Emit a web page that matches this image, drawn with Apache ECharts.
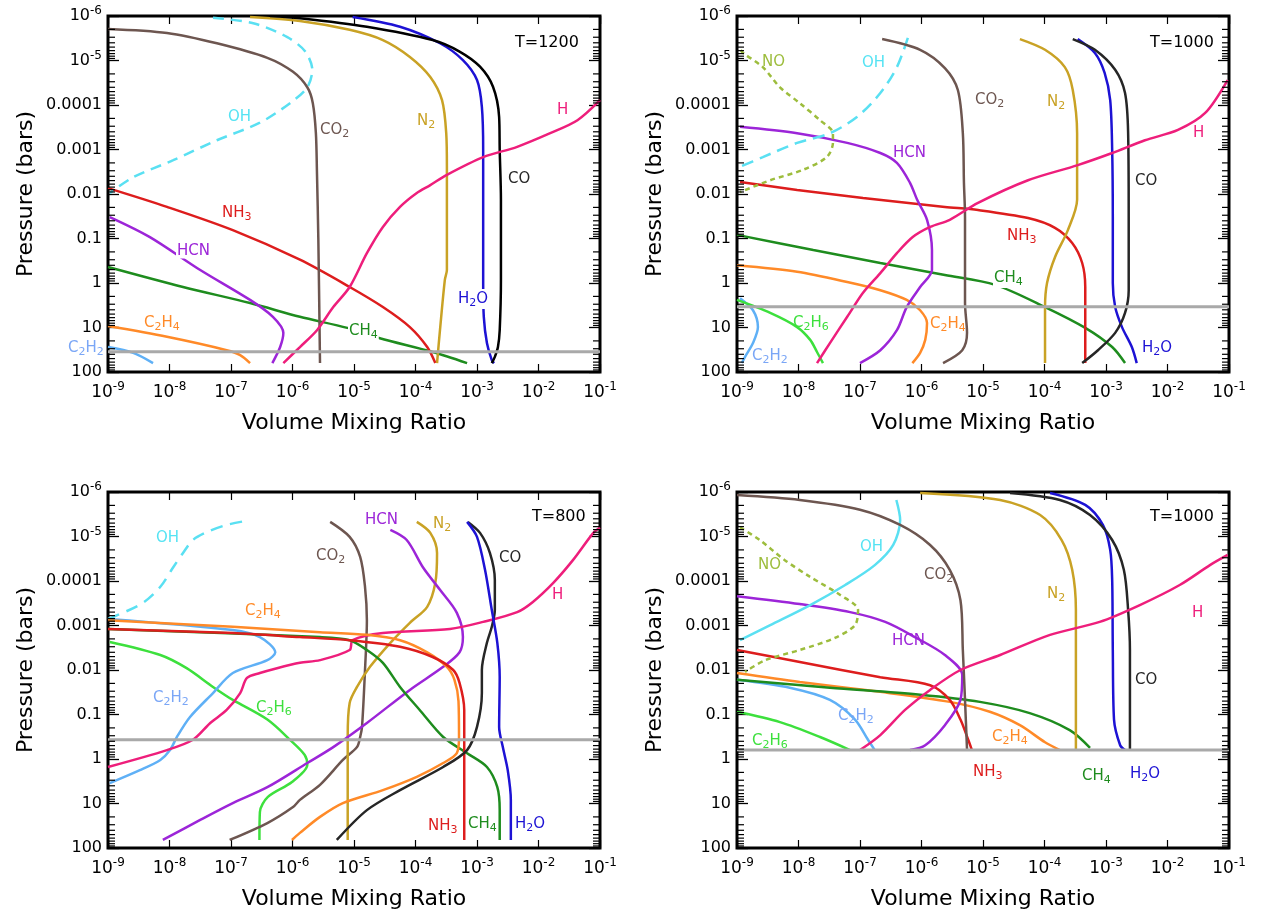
<!DOCTYPE html>
<html><head><meta charset="utf-8">
<script src="https://cdn.jsdelivr.net/npm/echarts@6/dist/echarts.min.js"></script>
<style>html,body{margin:0;padding:0;background:#fff}#c{width:1265px;height:918px}</style>
</head><body><div id="c"></div>
<script>
// ---------- tick labels ----------
const xTickExps = [-9,-8,-7,-6,-5,-4,-3,-2,-1];
const yTickLabels = {'-6':'10^-6','-5':'10^-5','-4':'0.0001','-3':'0.001','-2':'0.01','-1':'0.1','0':'1','1':'10','2':'100'};
const yMinorDecades = [1e-6,1e-5,1e-4,1e-3,1e-2,1e-1,1,10];
const minorMultipliers = [2,3,4,5,6,7,8,9];
const panelTitles = ['T=1200','T=1000','T=800','T=1000'];
const grayP = [35, 3.4, 0.37, 0.63];

// ---------- T=1200 (top left) ----------
const tl_CO2 = [[1e-9,1.95e-6],[9.1e-9,2.4e-6],[5.9e-8,4.1e-6],[3.9e-7,8.7e-6],[1.02e-6,1.8e-5],[1.74e-6,4.0e-5],[2.14e-6,9.1e-5],[2.4e-6,4.3e-4],[2.5e-6,3.4e-3],[2.63e-6,0.1],[2.8e-6,63]];
const tl_OH = [[5.1e-8,1.1e-6],[2.3e-7,1.45e-6],[8.1e-7,2.95e-6],[1.6e-6,6.2e-6],[2.1e-6,1.62e-5],[1.74e-6,4.0e-5],[9.1e-7,9.1e-5],[2.95e-7,2.5e-4],[5.9e-8,6.2e-4],[1.15e-8,1.74e-3],[2.57e-9,4.2e-3],[1.07e-9,9.5e-3]];
const tl_N2 = [[2.04e-7,1.05e-6],[1.32e-6,1.29e-6],[8.5e-6,2.04e-6],[2.95e-5,3.47e-6],[8.1e-5,8.3e-6],[1.74e-4,2.34e-5],[2.7e-4,7.8e-5],[3.16e-4,4.3e-4],[3.24e-4,2.45e-3],[3.24e-4,9.5e-3],[3.24e-4,0.51],[3.0e-4,0.85],[2.5e-4,11.5],[2.24e-4,63]];
const tl_H2O = [[9.5e-6,1.05e-6],[5.6e-5,1.74e-6],[2.5e-4,4.1e-6],[5.9e-4,9.8e-6],[1e-3,2.75e-5],[1.2e-3,1.1e-4],[1.26e-3,1.02e-3],[1.26e-3,1.35e-2],[1.26e-3,1],[1.29e-3,5.75],[1.45e-3,22.4],[1.74e-3,54],[1.9e-3,63]];
const tl_CO = [[4.3e-7,1e-6],[1.32e-6,1.12e-6],[1.62e-5,1.74e-6],[1.9e-4,3.47e-6],[5.2e-4,6.3e-6],[1.12e-3,1.38e-5],[1.82e-3,3.9e-5],[2.29e-3,1.86e-4],[2.34e-3,1.02e-3],[2.45e-3,1.35e-2],[2.45e-3,0.85],[2.34e-3,11.5],[2.19e-3,27.5],[1.95e-3,45.7],[1.74e-3,63]];
const tl_H = [[7.1e-7,63],[1.32e-6,27.5],[2.5e-6,11.5],[4.6e-6,3.47],[8.5e-6,1.23],[1.62e-5,0.214],[2.95e-5,0.055],[5.6e-5,0.0195],[1.05e-4,9.5e-3],[1.74e-4,6.3e-3],[3.24e-4,3.7e-3],[1.26e-3,1.48e-3],[4.5e-3,8.7e-4],[1.55e-2,4.3e-4],[4.3e-2,2.2e-4],[0.1,7.8e-5]];
const tl_NH3 = [[1e-9,7.4e-3],[9.1e-9,0.0195],[1.07e-7,0.065],[1.32e-6,0.30],[8.5e-6,1.23],[2.95e-5,3.47],[8.1e-5,9.8],[1.55e-4,27.5],[2.1e-4,63]];
const tl_HCN = [[1.07e-9,0.033],[4.8e-9,0.093],[3.16e-8,0.51],[2.04e-7,2.4],[4.8e-7,5.75],[7.1e-7,13.2],[6.3e-7,27.5],[4.7e-7,63]];
const tl_CH4 = [[1e-9,0.437],[1.66e-8,1.23],[2.04e-7,2.82],[1.32e-6,5.75],[7.8e-6,10.2],[2.63e-5,17.4],[1.9e-4,35.5],[6.9e-4,63]];
const tl_C2H4 = [[1e-9,9.3],[9.1e-9,16.2],[8.5e-8,32.4],[1.41e-7,41.7],[2.04e-7,63]];
const tl_C2H2 = [[1e-9,27.5],[2.57e-9,37.2],[5.4e-9,63]];

// ---------- T=1000 (top right) ----------
const tr_NO = [[1.15e-9,5.8e-6],[1.26e-9,6.8e-6],[2.63e-9,1.41e-5],[5.0e-9,4.0e-5],[1.05e-8,9.1e-5],[2.24e-8,2.2e-4],[3.63e-8,4.3e-4],[3.63e-8,7.1e-4],[2.88e-8,1.48e-3],[1.17e-8,2.88e-3],[3.47e-9,4.9e-3],[1.12e-9,9.1e-3]];
const tr_OH = [[6.0e-7,3.1e-6],[3.98e-7,1.41e-5],[2.14e-7,5.4e-5],[8.9e-8,1.86e-4],[3.24e-8,4.3e-4],[9.5e-9,7.1e-4],[2.63e-9,1.48e-3],[1.12e-9,2.45e-3]];
const tr_HCN = [[1.12e-9,3.1e-4],[9.5e-9,4.3e-4],[6.2e-8,7.1e-4],[2.14e-7,1.2e-3],[3.98e-7,2.0e-3],[6.5e-7,5.6e-3],[8.5e-7,1.35e-2],[1.23e-6,0.038],[1.48e-6,0.182],[1.48e-6,0.51],[9.5e-7,1.23],[5.75e-7,3.47],[3.98e-7,11.5],[2.14e-7,32.4],[1e-7,63]];
const tr_NH3 = [[1.12e-9,5.4e-3],[9.5e-9,8.1e-3],[1.12e-7,1.23e-2],[2.4e-6,1.95e-2],[8.3e-6,2.29e-2],[5.4e-5,3.47e-2],[1.48e-4,5.75e-2],[2.82e-4,0.126],[4.1e-4,0.355],[4.6e-4,1.23],[4.6e-4,5.75],[4.6e-4,63]];
const tr_CH4 = [[1e-9,0.083],[1.74e-8,0.182],[2.14e-7,0.355],[2.4e-6,0.66],[1.58e-5,1.1],[1.02e-4,3.47],[4.6e-4,10.2],[1.26e-3,27.5],[2.04e-3,63]];
const tr_C2H4 = [[1e-9,0.40],[9.5e-9,0.56],[6.2e-8,0.95],[2.14e-7,1.45],[5.75e-7,2.4],[9.5e-7,4.1],[1.23e-6,7.9],[1.15e-6,19],[9.5e-7,37],[7.1e-7,63]];
const tr_C2H6 = [[1e-9,2.4],[3.47e-9,4.7],[9.5e-9,9.8],[1.55e-8,19],[2.0e-8,35.5],[2.5e-8,63]];
const tr_C2H2 = [[1.12e-9,2.19],[1.82e-9,4.1],[2.19e-9,9.8],[1.82e-9,22.4],[1.35e-9,45.7],[1.2e-9,63]];
const tr_H = [[2.0e-8,63],[3.24e-8,22.4],[6.2e-8,5.75],[1.12e-7,1.66],[2.14e-7,0.60],[3.98e-7,0.214],[7.2e-7,0.093],[1.38e-6,0.055],[2.88e-6,0.038],[8.3e-6,0.0158],[5.4e-5,4.9e-3],[3.47e-4,2.24e-3],[1.26e-3,1.2e-3],[4.3e-3,6.2e-4],[1.48e-2,3.63e-4],[4.1e-2,1.51e-4],[9.5e-2,2.75e-5]];
const tr_CO2 = [[2.29e-7,3.3e-6],[9.5e-7,5.75e-6],[2.4e-6,1.48e-5],[3.9e-6,4.6e-5],[4.7e-6,4.3e-4],[4.9e-6,5.6e-3],[5.1e-6,0.033],[5.1e-6,2.82],[5.5e-6,13.2],[4.6e-6,32.4],[2.24e-6,63]];
const tr_N2 = [[3.98e-5,3.3e-6],[1.02e-4,5.75e-6],[2.14e-4,1.41e-5],[2.88e-4,4.6e-5],[3.39e-4,4.3e-4],[3.39e-4,5.6e-3],[3.39e-4,0.0135],[2.4e-4,0.065],[1.48e-4,0.263],[1.1e-4,1],[1.02e-4,3.47],[1.02e-4,63]];
const tr_H2O = [[3.47e-4,3.3e-6],[6.6e-4,6.8e-6],[9.5e-4,1.9e-5],[1.17e-3,7.8e-5],[1.26e-3,1.02e-3],[1.29e-3,0.033],[1.29e-3,1],[1.41e-3,3.47],[1.82e-3,9.8],[2.63e-3,27.5],[3.16e-3,63]];
const tr_CO = [[2.88e-4,3.3e-6],[6.6e-4,5.75e-6],[1.41e-3,1.62e-5],[2.04e-3,5.4e-5],[2.29e-3,4.3e-4],[2.34e-3,0.033],[2.34e-3,1.45],[2.04e-3,4.7],[1.41e-3,13.2],[7.4e-4,32.4],[4.1e-4,63]];

// ---------- T=800 (bottom left) ----------
const bl_OH = [[1e-9,7.1e-4],[1.2e-9,6.5e-4],[3.7e-9,3.1e-4],[7.1e-9,1.35e-4],[1.15e-8,4.9e-5],[1.66e-8,2.34e-5],[2.4e-8,1.2e-5],[4.1e-8,7.9e-6],[8.5e-8,5.5e-6],[1.7e-7,4.5e-6]];
const bl_C2H4 = [[1e-9,7.6e-4],[1.07e-7,1.07e-3],[2.8e-6,1.41e-3],[1.62e-5,1.62e-3],[5.6e-5,2.14e-3],[1.55e-4,4.0e-3],[3.24e-4,8.5e-3],[4.3e-4,0.0166],[5.0e-4,0.05],[5.1e-4,0.32],[4.7e-4,0.74],[2.82e-4,1.23],[1.05e-4,2.51],[2.95e-5,5.0],[6.6e-6,9.8],[2.8e-6,20],[1.32e-6,45.7],[9.8e-7,66]];
const bl_NH3 = [[1e-9,1.2e-3],[1.07e-7,1.48e-3],[1.32e-6,1.82e-3],[8.5e-6,2.14e-3],[5.6e-5,3.0e-3],[1.9e-4,5.1e-3],[4.1e-4,0.01],[5.2e-4,0.0195],[6.2e-4,0.079],[6.2e-4,0.437],[6.2e-4,66]];
const bl_CH4 = [[1e-9,1.2e-3],[2.8e-6,1.82e-3],[8.5e-6,2.14e-3],[1.62e-5,3.55e-3],[2.95e-5,6.9e-3],[5.6e-5,0.024],[1.17e-4,0.079],[2.82e-4,0.32],[6.9e-4,0.74],[1.45e-3,1.51],[2.14e-3,4.3],[2.34e-3,14.1],[2.34e-3,66]];
const bl_C2H2 = [[1e-9,7.1e-4],[1.07e-7,1.26e-3],[2.95e-7,1.82e-3],[5.25e-7,4.0e-3],[3.9e-7,6.0e-3],[1.07e-7,0.0117],[5.1e-8,0.033],[2.14e-8,0.115],[1.32e-8,0.32],[1.02e-8,0.63],[7.1e-9,1.05],[3.3e-9,1.78],[1.07e-9,3.47]];
const bl_C2H6 = [[1.07e-9,2.34e-3],[7.1e-9,4.6e-3],[1.9e-8,9.1e-3],[5.1e-8,0.024],[1.07e-7,0.047],[3.9e-7,0.13],[9.1e-7,0.37],[1.58e-6,0.81],[1.74e-6,1.35],[9.8e-7,3.3],[3.98e-7,7.1],[2.95e-7,15.5],[2.9e-7,66]];
const bl_H = [[1e-9,1.51],[9.1e-9,0.63],[2.4e-8,0.37],[4.6e-8,0.155],[8.5e-8,0.079],[1.41e-7,0.033],[1.82e-7,0.0151],[2.95e-7,0.0117],[5.6e-7,9.1e-3],[1.32e-6,6.9e-3],[2.8e-6,6.0e-3],[8.5e-6,3.55e-3],[9.5e-6,2.14e-3],[2.95e-5,1.48e-3],[3.63e-4,1.2e-3],[1.26e-3,8.3e-4],[4.5e-3,5.0e-4],[8.1e-3,2.95e-4],[1.74e-2,1.1e-4],[3.63e-2,3.4e-5],[7.8e-2,8.3e-6],[0.1,6.3e-6]];
const bl_HCN = [[3.9e-5,7.1e-6],[7.2e-5,1.2e-5],[1.32e-4,4.9e-5],[2.5e-4,1.58e-4],[4.7e-4,5.2e-4],[5.9e-4,1.82e-3],[5.2e-4,4.0e-3],[2.82e-4,8.5e-3],[8.1e-5,0.028],[1.62e-5,0.155],[4.6e-6,0.54],[1.74e-6,1.23],[3.9e-7,4.3],[1.07e-7,9.8],[3.16e-8,23.4],[7.8e-9,66]];
const bl_N2 = [[1.05e-4,4.7e-6],[1.74e-4,8.3e-6],[2.24e-4,2.34e-5],[2.1e-4,1.1e-4],[1.55e-4,3.8e-4],[8.1e-5,8.7e-4],[3.9e-5,2.45e-3],[1.82e-5,8.5e-3],[1.12e-5,0.024],[8.5e-6,0.055],[7.9e-6,0.32],[7.9e-6,66]];
const bl_CO2 = [[4.1e-6,4.7e-6],[8.5e-6,1.02e-5],[1.26e-5,2.88e-5],[1.51e-5,1.35e-4],[1.62e-5,7.6e-4],[1.51e-5,0.01],[1.35e-5,0.19],[1.26e-5,0.32],[1.12e-5,0.54],[6.6e-6,1.05],[2.8e-6,3.8],[1.32e-6,8.3],[1.02e-6,12],[3.9e-7,27.5],[9.5e-8,66]];
const bl_CO = [[7.1e-4,4.7e-6],[1.12e-3,8.3e-6],[1.62e-3,2.34e-5],[1.95e-3,9.5e-5],[1.95e-3,4.5e-4],[1.74e-3,1.07e-3],[1.45e-3,2.45e-3],[1.2e-3,0.01],[1.2e-3,0.033],[1e-3,0.19],[6.9e-4,0.63],[2.82e-4,1.51],[5.6e-5,5.0],[1.62e-5,14.1],[5.25e-6,66]];
const bl_H2O = [[6.9e-4,4.7e-6],[1e-3,1.02e-5],[1.35e-3,5.6e-5],[1.74e-3,4.5e-4],[2.14e-3,2.45e-3],[2.34e-3,0.0145],[2.29e-3,0.19],[2.63e-3,0.54],[3.16e-3,1.78],[3.55e-3,8.3],[3.55e-3,66]];

// ---------- T=1000 (bottom right) ----------
const br_CO2 = [[1e-9,1.17e-6],[1.05e-8,1.51e-6],[1e-7,2.5e-6],[4.5e-7,5.5e-6],[1.38e-6,1.55e-5],[2.88e-6,5.6e-5],[4.3e-6,2.7e-4],[4.7e-6,3.55e-3],[5.1e-6,0.047],[5.5e-6,0.63]];
const br_N2 = [[9.5e-7,1.05e-6],[1.9e-5,1.51e-6],[8.5e-5,3.3e-6],[1.9e-4,1.2e-5],[2.82e-4,5.6e-5],[3.24e-4,4.5e-4],[3.24e-4,0.63]];
const br_CO = [[2.75e-5,1.05e-6],[1.78e-4,1.51e-6],[5.5e-4,3.3e-6],[1.26e-3,1.2e-5],[1.95e-3,5.6e-5],[2.29e-3,4.5e-4],[2.45e-3,3.55e-3],[2.45e-3,0.63]];
const br_H2O = [[1.23e-4,1.05e-6],[4.6e-4,1.95e-6],[8.9e-4,5.5e-6],[1.17e-3,2.0e-5],[1.26e-3,9.5e-5],[1.29e-3,3.55e-3],[1.35e-3,0.13],[1.7e-3,0.49],[2.04e-3,0.63]];
const br_OH = [[1.12e-9,2.14e-3],[3.47e-9,9.8e-4],[1.55e-8,3.47e-4],[5.75e-8,1.23e-4],[1.74e-7,4.4e-5],[3.47e-7,1.55e-5],[4.5e-7,4.3e-6],[3.9e-7,1.51e-6]];
const br_NO = [[1.12e-9,6.2e-6],[2.34e-9,1.2e-5],[6.0e-9,3.4e-5],[1.55e-8,8.1e-5],[4.7e-8,2.04e-4],[9.3e-8,4.5e-4],[8.3e-8,9.8e-4],[3.9e-8,1.9e-3],[1.05e-8,3.55e-3],[2.9e-9,6.0e-3],[1.35e-9,0.011]];
const br_HCN = [[1e-9,2.2e-4],[1.05e-8,3.3e-4],[6.9e-8,5.0e-4],[2.57e-7,8.3e-4],[7.8e-7,1.82e-3],[2.4e-6,4.6e-3],[4.6e-6,0.0129],[4.3e-6,0.047],[2.4e-6,0.174],[1.15e-6,0.49],[6.5e-7,0.63]];
const br_NH3 = [[1e-9,3.55e-3],[1.05e-8,6.6e-3],[2.14e-7,0.0145],[1.38e-6,0.022],[2.88e-6,0.047],[4.3e-6,0.13],[5.75e-6,0.37],[6.6e-6,0.63]];
const br_C2H4 = [[1e-9,0.0117],[1.05e-8,0.0186],[2.14e-7,0.031],[2.88e-6,0.052],[1.29e-5,0.087],[3.98e-5,0.174],[1.02e-4,0.42],[1.78e-4,0.63]];
const br_CH4 = [[1e-9,0.0166],[3.24e-8,0.025],[9.5e-7,0.036],[8.9e-6,0.052],[5.75e-5,0.093],[2.57e-4,0.224],[5.5e-4,0.56]];
const br_C2H2 = [[1e-9,0.0166],[7.2e-9,0.025],[3.24e-8,0.047],[8.3e-8,0.13],[1.35e-7,0.37],[1.74e-7,0.63]];
const br_C2H6 = [[1e-9,0.087],[5.0e-9,0.148],[2.24e-8,0.32],[6.9e-8,0.63]];
const br_H = [[1e-7,0.63],[2.14e-7,0.29],[5.4e-7,0.079],[1.38e-6,0.028],[4.3e-6,0.01],[1.9e-5,4.6e-3],[1.23e-4,1.62e-3],[7.9e-4,8.3e-4],[3.55e-3,3.47e-4],[0.0158,1.23e-4],[0.049,4.4e-5],[0.095,2.6e-5]];

// ---------- styling ----------
const FONT = 'DejaVu Sans';
const COLOR = {CO2:'#6d5650', OH:'#5ae0f2', N2:'#c9a225', H2O:'#1d12d4', CO:'#262626', H:'#ee1e7b', NH3:'#dd1d1d', HCN:'#9c25d8', CH4:'#1e8c1e', C2H4:'#ff8a28', C2H2:'#5fb0f6', C2H6:'#3de03d', NO:'#9dbd3d'};
const LABEL_COLOR = Object.assign({}, COLOR, {C2H2:'#7aa6f6', OH:'#55e3f3'});
const RICH_TEXT = {CO2:'CO{s|2}', N2:'N{s|2}', H2O:'H{s|2}O', NH3:'NH{s|3}', CH4:'CH{s|4}', C2H4:'C{s|2}H{s|4}', C2H2:'C{s|2}H{s|2}', C2H6:'C{s|2}H{s|6}', OH:'OH', NO:'NO', HCN:'HCN', H:'H', CO:'CO'};

const panels = [
  {left:108, top:16, lines:{C2H2:tl_C2H2, C2H4:tl_C2H4, CH4:tl_CH4, HCN:tl_HCN, NH3:tl_NH3, OH:tl_OH, CO2:tl_CO2, N2:tl_N2, H2O:tl_H2O, CO:tl_CO, H:tl_H},
   dash:{OH:[11,7]}, coColor:'#000',
   labels:[['T',515,43],['OH',228,117],['CO2',320,130],['N2',417,121],['H',557,110],['CO',508,179],['NH3',222,213],['HCN',176,251,1],['CH4',348,331,1],['C2H4',144,323],['C2H2',68,348],['H2O',457,299,1]]},
  {left:737, top:16, lines:{C2H2:tr_C2H2, C2H6:tr_C2H6, C2H4:tr_C2H4, CH4:tr_CH4, NH3:tr_NH3, HCN:tr_HCN, NO:tr_NO, OH:tr_OH, CO2:tr_CO2, N2:tr_N2, H2O:tr_H2O, CO:tr_CO, H:tr_H},
   dash:{OH:[12,7], NO:[5,4]},
   labels:[['T',1150,43],['NO',762,62],['OH',862,63],['CO2',975,100],['N2',1047,102],['H',1193,133],['HCN',893,153],['CO',1135,181],['NH3',1007,236],['CH4',993,278,1],['C2H6',793,323],['C2H4',930,324],['C2H2',752,356],['H2O',1142,348]]},
  {left:108, top:492, lines:{C2H6:bl_C2H6, C2H2:bl_C2H2, OH:bl_OH, CO2:bl_CO2, N2:bl_N2, HCN:bl_HCN, H:bl_H, CH4:bl_CH4, C2H4:bl_C2H4, NH3:bl_NH3, CO:bl_CO, H2O:bl_H2O},
   dash:{OH:[12,8]},
   labels:[['T',532,517],['OH',156,538],['CO2',316,556],['HCN',365,520],['N2',433,524],['CO',499,558],['H',552,595],['C2H4',245,611],['C2H2',153,698],['C2H6',256,708],['NH3',428,826],['CH4',468,824],['H2O',515,824]]},
  {left:737, top:492, lines:{C2H6:br_C2H6, C2H2:br_C2H2, C2H4:br_C2H4, CH4:br_CH4, NH3:br_NH3, HCN:br_HCN, NO:br_NO, OH:br_OH, CO2:br_CO2, N2:br_N2, H2O:br_H2O, CO:br_CO, H:br_H},
   dash:{NO:[5,4]},
   labels:[['T',1150,517],['OH',860,547],['NO',758,565],['CO2',924,575],['N2',1047,594],['H',1192,613],['HCN',892,641],['CO',1135,680],['C2H2',838,716],['C2H4',992,737],['C2H6',752,741],['NH3',973,772],['CH4',1082,776],['H2O',1130,774]]}
];

function expOf(v){ return Math.round(Math.log10(v)); }
const xRich = {b:{fontSize:17, fontFamily:FONT, color:'#000'}, e:{fontSize:12, fontFamily:FONT, color:'#000', padding:[0,0,11,0]}};
const yRich = {b:{fontSize:16, fontFamily:FONT, color:'#000'}, e:{fontSize:12, fontFamily:FONT, color:'#000', padding:[0,0,10,0]}, n:{fontSize:16, fontFamily:FONT, color:'#000'}};

// minor tick values (2..9 x each decade) on the pressure axis
const minorTickData = [];
yMinorDecades.forEach(d => minorMultipliers.forEach(m => minorTickData.push([1e-9, m * d])));

const option = {animation:false, backgroundColor:'#fff', grid:[], xAxis:[], yAxis:[], series:[], graphic:[]};

panels.forEach((p, i) => {
  option.grid.push({left:p.left, top:p.top, width:492, height:356, show:true, borderColor:'#000', borderWidth:3, backgroundColor:'rgba(0,0,0,0)'});
  const xBase = {gridIndex:i, type:'log', logBase:10, min:1e-9, max:0.1, splitLine:{show:false}, axisLine:{show:false}};
  option.xAxis.push(Object.assign({}, xBase, {
    position:'bottom', name:'Volume Mixing Ratio', nameLocation:'middle', nameGap:40,
    nameTextStyle:{fontSize:22, fontFamily:FONT, color:'#000'},
    axisTick:{inside:true, length:8, lineStyle:{color:'#000', width:1.2}},
    axisLabel:{margin:9, showMinLabel:true, showMaxLabel:true, hideOverlap:false, rich:xRich,
      formatter: v => { const e = expOf(v); return xTickExps.indexOf(e) >= 0 ? '{b|10}{e|' + e + '}' : ''; }}
  }));
  option.xAxis.push(Object.assign({}, xBase, {
    position:'top', axisLabel:{show:false}, axisTick:{inside:true, length:8, lineStyle:{color:'#000', width:1.2}}
  }));
  const yBase = {gridIndex:i, type:'log', logBase:10, min:1e-6, max:100, inverse:true, splitLine:{show:false}, axisLine:{show:false},
    axisTick:{inside:true, length:11, lineStyle:{color:'#000', width:1.3}}, minorTick:{show:false}};
  option.yAxis.push(Object.assign({}, yBase, {
    position:'left', name:'Pressure (bars)', nameLocation:'middle', nameRotate:90, nameGap:71,
    nameTextStyle:{fontSize:22, fontFamily:FONT, color:'#000'},
    axisLabel:{margin:6, showMinLabel:true, showMaxLabel:true, hideOverlap:false, rich:yRich,
      formatter: v => { const t = yTickLabels[String(expOf(v))]; if (!t) return ''; if (t.indexOf('^') > 0) { const s = t.split('^'); return '{b|' + s[0] + '}{e|' + s[1] + '}'; } return '{n|' + t + '}'; }}
  }));
  option.yAxis.push(Object.assign({}, yBase, {position:'right', axisLabel:{show:false}}));

  Object.keys(p.lines).forEach(k => {
    option.series.push({type:'line', xAxisIndex:2*i, yAxisIndex:2*i, data:p.lines[k], showSymbol:false, smooth:0.3, silent:true, clip:true,
      lineStyle:{color: (k === 'CO' && p.coColor) ? p.coColor : COLOR[k], width:2.5, type:(p.dash && p.dash[k]) ? p.dash[k] : 'solid', cap:'butt'}, z:3});
  });
  option.series.push({type:'line', xAxisIndex:2*i, yAxisIndex:2*i, data:[[1e-9, grayP[i]],[0.1, grayP[i]]], showSymbol:false, silent:true,
    lineStyle:{color:'#a9a9a9', width:3}, z:4});
  // minor ticks on both pressure axes, placed through the axis scale
  option.series.push({type:'custom', xAxisIndex:2*i, yAxisIndex:2*i, data:minorTickData, silent:true, clip:false, z:5,
    renderItem: (params, api) => {
      const pl = api.coord([1e-9, api.value(1)]);
      const pr = api.coord([0.1, api.value(1)]);
      return {type:'group', children:[
        {type:'line', shape:{x1:pl[0], y1:pl[1], x2:pl[0] + 7, y2:pl[1]}, style:{stroke:'#000', lineWidth:1.2}},
        {type:'line', shape:{x1:pr[0] - 7, y1:pr[1], x2:pr[0], y2:pr[1]}, style:{stroke:'#000', lineWidth:1.2}}
      ]};
    }});

  p.labels.forEach(l => {
    const key = l[0];
    const isT = key === 'T';
    option.graphic.push({type:'text', x:l[1], y:l[2], z:100, silent:true,
      style:{text: isT ? panelTitles[i] : RICH_TEXT[key], fill: isT ? '#000' : LABEL_COLOR[key], fontSize: isT ? 16 : 15, fontFamily:FONT,
        align:'left', verticalAlign:'middle', backgroundColor: l[3] ? '#fff' : null, padding: l[3] ? [0,1,0,1] : 0,
        rich:{s:{fontSize:11, fontFamily:FONT, fill: isT ? '#000' : LABEL_COLOR[key], padding:[9,0,0,0]}}}});
  });
});

const chart = echarts.init(document.getElementById('c'), null, {renderer:'canvas'});
chart.setOption(option);
</script></body></html>
